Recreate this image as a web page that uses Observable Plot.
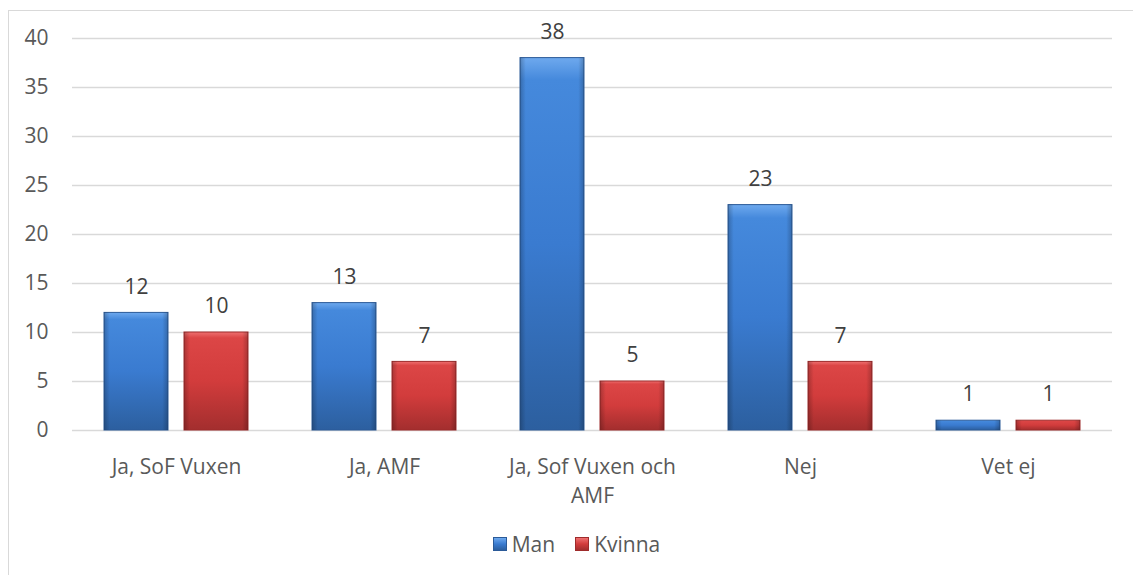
<!DOCTYPE html>
<html>
<head>
<meta charset="utf-8">
<script src="https://cdn.jsdelivr.net/npm/d3@7"></script>
<script src="https://cdn.jsdelivr.net/npm/@observablehq/plot@0.6"></script>
<style>
  html, body { margin: 0; padding: 0; background: #fff; overflow: hidden; width: 1133px; height: 575px; }
  #frame { position: absolute; left: 8px; top: 10px; width: 1200px; height: 700px; border: 1px solid #d9d9d9; box-sizing: border-box; }
  #chart { position: absolute; left: 0; top: 0; }
  #legend { position: absolute; left: 0; top: 530px; width: 1133px; display: flex; justify-content: center; align-items: center; gap: 20px;
    font-family: "Open Sans", sans-serif; font-size: 21px; color: #595959; padding-left: 20px; box-sizing: border-box; }
  .item { display: flex; align-items: center; gap: 5px; }
  .sw { width: 14px; height: 14px; display: inline-block; box-sizing: border-box; }
</style>
</head>
<body>
<div id="frame"></div>
<div id="chart"></div>
<div id="legend"></div>
<script>
const categories = ["Ja, SoF Vuxen", "Ja, AMF", "Ja, Sof Vuxen och AMF", "Nej", "Vet ej"];
const categoryLabels = ["Ja, SoF Vuxen", "Ja, AMF", "Ja, Sof Vuxen och\nAMF", "Nej", "Vet ej"];
const series = ["Man", "Kvinna"];
const manValues = [12, 13, 38, 23, 1];
const kvinnaValues = [10, 7, 5, 7, 1];
const yTicks = [0, 5, 10, 15, 20, 25, 30, 35, 40];

const data = [];
categories.forEach((c, i) => {
  data.push({cat: c, series: "Man", value: manValues[i]});
  data.push({cat: c, series: "Kvinna", value: kvinnaValues[i]});
});
const labelOf = new Map(categories.map((c, i) => [c, categoryLabels[i]]));

const chart = Plot.plot({
  width: 1133,
  height: 520,
  marginLeft: 72,
  marginRight: 21,
  marginTop: 38,
  marginBottom: 90,
  style: {fontFamily: "'Open Sans', sans-serif", fontSize: "21px", color: "#595959", background: "transparent"},
  fx: {domain: categories, padding: 0, label: null},
  x: {domain: series, paddingInner: 0.2, paddingOuter: 0.4, axis: null},
  y: {domain: [0, 40], label: null},
  marks: [
    Plot.gridY(yTicks, {stroke: "#d9d9d9", strokeOpacity: 1, strokeWidth: 1.5}),
    Plot.axisY(yTicks, {tickSize: 0, tickPadding: 24, label: null, fill: "#595959", fontSize: 21}),
    Plot.axisFx({anchor: "bottom", tickSize: 0, tickPadding: 23, label: null, fill: "#595959", fontSize: 21, lineHeight: 1.38,
      tickFormat: d => labelOf.get(d)}),
    Plot.barY(data, {fx: "cat", x: "series", y: "value",
      fill: d => d.series === "Man" ? "url(#gMan)" : "url(#gKv)",
      stroke: d => d.series === "Man" ? "#2b5a98" : "#9e2b2b", strokeWidth: 1}),
    Plot.barY(data, {fx: "cat", x: "series", y: "value", fill: "url(#gSide)"}),
    Plot.text(data, {fx: "cat", x: "series", y: "value", text: d => String(d.value), dy: -26,
      fill: "#404040", fontSize: 21})
  ]
});

const svg = d3.select(chart);
const defs = svg.insert("defs", ":first-child");
function grad(id, c0, c1, c2, c3) {
  const g = defs.append("linearGradient").attr("id", id).attr("x1", 0).attr("y1", 0).attr("x2", 0).attr("y2", 1);
  g.append("stop").attr("offset", "0").attr("stop-color", c0);
  g.append("stop").attr("offset", "0.06").attr("stop-color", c1);
  g.append("stop").attr("offset", "0.5").attr("stop-color", c2);
  g.append("stop").attr("offset", "1").attr("stop-color", c3);
}
grad("gMan", "#6ea9ee", "#4589dc", "#3a7bd0", "#2c5f9f");
grad("gKv", "#ee7070", "#dc4646", "#d23c3c", "#a32e2e");
const side = defs.append("linearGradient").attr("id", "gSide").attr("x1", 0).attr("y1", 0).attr("x2", 1).attr("y2", 0);
[[0, 0.22], [0.09, 0], [0.91, 0], [1, 0.22]].forEach(([o, a]) =>
  side.append("stop").attr("offset", o).attr("stop-color", "#000").attr("stop-opacity", a));

document.getElementById("chart").appendChild(chart);

const legend = document.getElementById("legend");
series.forEach(s => {
  const it = document.createElement("div");
  it.className = "item";
  const sw = document.createElement("span");
  sw.className = "sw";
  sw.style.background = s === "Man" ? "linear-gradient(#6ea9ee, #3a7bd0 50%, #2c5f9f)" : "linear-gradient(#ee7070, #d23c3c 50%, #a32e2e)";
  sw.style.border = "1px solid " + (s === "Man" ? "#2b5a98" : "#9e2b2b");
  const t = document.createElement("span");
  t.textContent = s;
  it.appendChild(sw); it.appendChild(t);
  legend.appendChild(it);
});
</script>
</body>
</html>
